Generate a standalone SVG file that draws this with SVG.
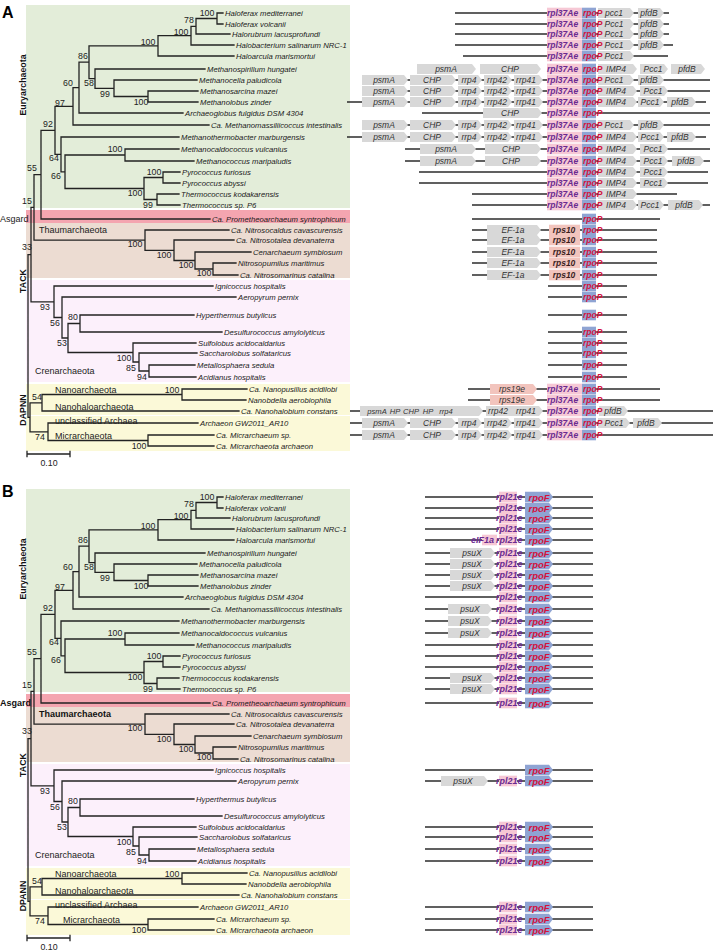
<svg xmlns="http://www.w3.org/2000/svg" width="717" height="952" viewBox="0 0 717 952">
<style>
text{font-family:"Liberation Sans",Arial,Helvetica,sans-serif}
.tx{font-size:7.7px;font-style:italic;fill:#1a1a1a}
.bs{font-size:8.8px;fill:#222;text-anchor:middle}
.gl{font-size:9px;fill:#222}
.glb{font-size:9px;fill:#111;font-weight:bold}
.rot{font-size:8.8px;font-weight:bold;fill:#111;text-anchor:middle}
.pl{font-size:16px;font-weight:bold;fill:#000}
.tree{fill:none;stroke:#222;stroke-width:1.3;stroke-linecap:square}
.ln{stroke:#2b2b2b;stroke-width:1.5;fill:none}
.g{fill:#d8d8d8}
.gt{font-size:8.5px;font-style:italic;fill:#333;text-anchor:middle}
.gs{font-size:7.6px;font-style:italic;fill:#333;text-anchor:middle}
.pk{fill:#f6c8d5}
.bl{fill:#8fa4d3}
.rs{fill:#f2c4bd}
.rpl{font-size:8.5px;font-weight:bold;font-style:italic;fill:#6a2a90}
.rpo{font-size:8.5px;font-weight:bold;font-style:italic;fill:#d3123c}
.rps{font-size:8.5px;font-weight:bold;font-style:italic;fill:#3a1f1f;text-anchor:middle}
.rplB{font-size:9px;font-weight:bold;font-style:italic;fill:#6a2a90}
.rpoB{font-size:9.5px;font-weight:bold;font-style:italic;fill:#d3123c;text-anchor:middle}
.eu{fill:#e3edd9}.as{fill:#f4a5b0}.th{fill:#ecdcd2}.cr{fill:#fcf0fb}.dp{fill:#fbf9d8}
</style>
<defs>
<g id="L5" class="g"><path d="M362-5h42l4 5-4 5h-42z"/><path d="M410-5h42l4 5-4 5h-42z"/><path d="M458-5h20l4 5-4 5h-20z"/><path d="M484-5h24l4 5-4 5h-24z"/><path d="M514-5h25l4 5-4 5h-25z"/></g>
<path id="IM" class="g" d="M598-5h35l4 5-4 5h-35z"/>
<path id="P2" class="g" d="M640-5h24l4 5-4 5h-24z"/>
<path id="F3" class="g" d="M672-5h28l4 5-4 5h-28z"/>
<path id="P1" class="g" d="M598-5h32l4 5-4 5h-32z"/>
<path id="F1" class="g" d="M638-5h22l4 5-4 5h-22z"/>
<rect id="pk" class="pk" x="547" y="-5.3" width="35" height="10.6"/>
<rect id="bl" class="bl" x="582" y="-5.3" width="14" height="10.6"/>
<path id="EF" class="g" d="M487-5h50l4 5-4 5h-50z"/>
<rect id="RS" class="rs" x="549" y="-5.3" width="31" height="10.6"/>
<path id="R19" class="rs" d="M490-5h43l4 5-4 5h-43z"/>
<rect id="pkB" class="pk" x="499" y="-5.3" width="18" height="10.6"/>
<path id="blB" class="bl" d="M525-5.3h24l4 5.3-4 5.3h-24z"/>
<path id="ps1" class="g" d="M450-5h41l4 5-4 5h-41z"/>
<path id="ps2" class="g" d="M448-5h40l4 5-4 5h-40z"/>
<path id="treeP" class="tree" d="M217 13V24M217 13H223M217 24H223M196 18.5V34M196 18.5H217M196 34H230M191 26.3V45M191 26.3H196M191 45H234M158 35.6V56M158 35.6H191M158 56H234M148 91V102M148 91H198M148 102H198M114 80V96.5M114 80H197M114 96.5H148M95 69V88.3M95 69H205M95 88.3H114M89 45.8V78.6M89 45.8H158M89 78.6H95M79 62.2V113M79 62.2H89M79 113H183M73 87.6V125M73 87.6H79M73 125H209M125 149V161M125 149H179M125 161H194M163 172V183M163 172H180M163 183H180M157 194V205M157 194H179M157 205H180M144 177.5V199.5M144 177.5H163M144 199.5H157M65 155V188.5M65 155H125M65 188.5H144M61 137V171.8M61 137H179M61 171.8H65M55 106.3V154.4M55 106.3H73M55 154.4H61M41 130.3V219M41 130.3H55M41 219H210M213 263V275M213 263H236M213 275H238M195 252V269M195 252H251M195 269H213M174 240V260.5M174 240H234M174 260.5H195M145 230V250.3M145 230H229M145 250.3H174M34 174.7V240.1M34 174.7H41M34 240.1H145M149 365V377M149 365H195M149 377H196M139 353V371M139 353H197M139 371H149M133 343V362M133 343H196M133 362H139M80 315V332M80 315H194M80 332H222M68 323.5V352.5M68 323.5H80M68 352.5H133M62 297V338M62 297H236M62 338H68M54 286V317.5M54 286H213M54 317.5H62M31 207.4V301.8M31 207.4H34M31 301.8H54M182 389V400M182 389H247M182 400H246M42 394.5V411M42 394.5H182M42 411H239M148 435V446M148 435H214M148 446H214M48 423V440.5M48 423H198M48 440.5H148M30 402.8V431.8M30 402.8H42M30 431.8H48M28 254.6V417.3M28 254.6H31M28 417.3H30"/>
</defs>

<!-- ================= PANEL A ================= -->
<g id="panelA">
<text class="pl" x="2" y="17.5">A</text>
<g id="A-bg">
<rect class="eu" x="26" y="5" width="324" height="203"/>
<rect class="as" x="26" y="210" width="324" height="13"/>
<rect class="th" x="26" y="223" width="324" height="55"/>
<rect class="cr" x="26" y="280" width="324" height="102"/>
<rect class="dp" x="26" y="384" width="324" height="31"/>
<rect class="dp" x="26" y="416" width="324" height="35"/>
</g>
<g id="A-connectors"><use href="#treeP"/>
<path class="tree" d="M27 454H70M27 451.5V456.5M70 451.5V456.5"/></g>
<g id="A-scale"><text class="bs" x="49" y="466">0.10</text></g>
<g id="A-groups">
<text class="rot" transform="translate(25.5,85) rotate(-90)">Euryarchaeota</text>
<text class="rot" transform="translate(25.5,281) rotate(-90)">TACK</text>
<text class="rot" transform="translate(25.5,410) rotate(-90)">DAPNN</text>
<text class="gl" x="0" y="222">Asgard</text>
<text class="gl" x="39" y="233">Thaumarchaeota</text>
<text class="gl" x="35" y="374">Crenarchaeota</text>
<text class="gl" x="55" y="392.5">Nanoarchaeota</text>
<text class="gl" x="55" y="409.5">Nanohaloarchaeota</text>
<text class="gl" x="55" y="424">unclassified Archaea</text>
<text class="gl" x="55" y="439">Micrarchaeota</text>
</g>
<g id="A-support">
<text class="bs" x="207" y="15.5">100</text><text class="bs" x="189" y="23">78</text><text class="bs" x="181" y="35">100</text><text class="bs" x="148" y="45">100</text>
<text class="bs" x="83" y="59">86</text><text class="bs" x="68" y="86">60</text><text class="bs" x="89" y="86">58</text><text class="bs" x="105" y="97">99</text>
<text class="bs" x="141" y="105">100</text><text class="bs" x="60" y="106">97</text><text class="bs" x="48" y="127">92</text><text class="bs" x="115" y="152">100</text>
<text class="bs" x="54" y="161">64</text><text class="bs" x="32" y="171">55</text><text class="bs" x="154" y="175">100</text><text class="bs" x="56" y="179">66</text>
<text class="bs" x="135" y="196">100</text><text class="bs" x="27" y="204">15</text><text class="bs" x="148" y="208">99</text><text class="bs" x="135" y="247">100</text>
<text class="bs" x="27" y="250">33</text><text class="bs" x="164" y="258">100</text><text class="bs" x="186" y="268">100</text><text class="bs" x="204" y="276">100</text>
<text class="bs" x="45" y="310">93</text><text class="bs" x="73" y="320">80</text><text class="bs" x="55" y="326">56</text><text class="bs" x="62" y="346">53</text>
<text class="bs" x="124" y="361">100</text><text class="bs" x="131" y="371">85</text><text class="bs" x="142" y="380">94</text><text class="bs" x="172" y="393">100</text>
<text class="bs" x="37" y="400">54</text><text class="bs" x="40" y="440">74</text><text class="bs" x="139" y="449">100</text>
</g>
<g id="A-taxa">
<g id="A-n1"><text class="tx" x="225" y="15.8">Haloferax mediterranei</text></g>
<g id="A-n2"><text class="tx" x="225" y="26.8">Haloferax volcanii</text></g>
<g id="A-n3"><text class="tx" x="232" y="36.8">Halorubrum lacusprofundi</text></g>
<g id="A-n4"><text class="tx" x="236" y="47.8">Halobacterium salinarum NRC-1</text></g>
<g id="A-n5"><text class="tx" x="236" y="58.8">Haloarcula marismortui</text></g>
<g id="A-n6"><text class="tx" x="207" y="71.8">Methanospirillum hungatei</text></g>
<g id="A-n7"><text class="tx" x="199" y="82.8">Methanocella paludicola</text></g>
<g id="A-n8"><text class="tx" x="200" y="93.8">Methanosarcina mazei</text></g>
<g id="A-n9"><text class="tx" x="200" y="104.8">Methanolobus zinder</text></g>
<g id="A-n10"><text class="tx" x="185" y="115.8">Archaeoglobus fulgidus DSM 4304</text></g>
<g id="A-n11"><text class="tx" x="211" y="127.8">Ca. Methanomassiliicoccus intestinalis</text></g>
<g id="A-n12"><text class="tx" x="181" y="139.8">Methanothermobacter marburgensis</text></g>
<g id="A-n13"><text class="tx" x="181" y="151.8">Methanocaldococcus vulcanius</text></g>
<g id="A-n14"><text class="tx" x="196" y="163.8">Methanococcus maripaludis</text></g>
<g id="A-n15"><text class="tx" x="182" y="174.8">Pyrococcus furiosus</text></g>
<g id="A-n16"><text class="tx" x="182" y="185.8">Pyrococcus abyssi</text></g>
<g id="A-n17"><text class="tx" x="181" y="196.8">Thermococcus kodakarensis</text></g>
<g id="A-n18"><text class="tx" x="182" y="207.8">Thermococcus sp. P6</text></g>
<g id="A-n19"><text class="tx" x="212" y="221.8">Ca. Prometheoarchaeum syntrophicum</text></g>
<g id="A-n20"><text class="tx" x="231" y="232.8">Ca. Nitrosocaldus cavascurensis</text></g>
<g id="A-n21"><text class="tx" x="236" y="242.8">Ca. Nitrosotalea devanaterra</text></g>
<g id="A-n22"><text class="tx" x="253" y="254.8">Cenarchaeum symbiosum</text></g>
<g id="A-n23"><text class="tx" x="238" y="265.8">Nitrosopumilus maritimus</text></g>
<g id="A-n24"><text class="tx" x="240" y="277.8">Ca. Nitrosomarinus catalina</text></g>
<g id="A-n25"><text class="tx" x="215" y="288.8">Ignicoccus hospitalis</text></g>
<g id="A-n26"><text class="tx" x="238" y="299.8">Aeropyrum pernix</text></g>
<g id="A-n27"><text class="tx" x="196" y="317.8">Hyperthermus butylicus</text></g>
<g id="A-n28"><text class="tx" x="224" y="334.8">Desulfurococcus amylolyticus</text></g>
<g id="A-n29"><text class="tx" x="198" y="345.8">Sulfolobus acidocaldarius</text></g>
<g id="A-n30"><text class="tx" x="199" y="355.8">Saccharolobus solfataricus</text></g>
<g id="A-n31"><text class="tx" x="197" y="367.8">Metallosphaera sedula</text></g>
<g id="A-n32"><text class="tx" x="198" y="379.8">Acidianus hospitalis</text></g>
<g id="A-n33"><text class="tx" x="249" y="391.8">Ca. Nanopusillus acidilobi</text></g>
<g id="A-n34"><text class="tx" x="248" y="402.8">Nanobdella aerobiophila</text></g>
<g id="A-n35"><text class="tx" x="241" y="413.8">Ca. Nanohalobium constans</text></g>
<g id="A-n36"><text class="tx" x="200" y="425.8">Archaeon GW2011_AR10</text></g>
<g id="A-n37"><text class="tx" x="216" y="437.8">Ca. Micrarchaeum sp.</text></g>
<g id="A-n38"><text class="tx" x="216" y="448.8">Ca. Micrarchaeota archaeon</text></g>
</g>

<g id="A-genes">
<g id="A-r1"><path class="ln" d="M455 13H669"/><use href="#pk" y="13"/><use href="#bl" y="13"/><use href="#P1" y="13"/><use href="#F1" y="13"/><text class="rpl" x="547" y="16">rpl37Ae</text><text class="rpo" x="583" y="16">rpoP</text><text class="gt" x="614" y="16">pcc1</text><text class="gt" x="649" y="16">pfdB</text></g>
<g id="A-r2"><path class="ln" d="M455 24H669"/><use href="#pk" y="24"/><use href="#bl" y="24"/><use href="#P1" y="24"/><use href="#F1" y="24"/><text class="rpl" x="547" y="27">rpl37Ae</text><text class="rpo" x="583" y="27">rpoP</text><text class="gt" x="614" y="27">Pcc1</text><text class="gt" x="649" y="27">pfdB</text></g>
<g id="A-r3"><path class="ln" d="M455 34H669"/><use href="#pk" y="34"/><use href="#bl" y="34"/><use href="#P1" y="34"/><use href="#F1" y="34"/><text class="rpl" x="547" y="37">rpl37Ae</text><text class="rpo" x="583" y="37">rpoP</text><text class="gt" x="614" y="37">Pcc1</text><text class="gt" x="649" y="37">pfdB</text></g>
<g id="A-r4"><path class="ln" d="M455 45H673"/><use href="#pk" y="45"/><use href="#bl" y="45"/><use href="#P1" y="45"/><use href="#F1" y="45"/><text class="rpl" x="547" y="48">rpl37Ae</text><text class="rpo" x="583" y="48">rpoP</text><text class="gt" x="614" y="48">Pcc1</text><text class="gt" x="649" y="48">pfdB</text></g>
<g id="A-r5"><path class="ln" d="M463 56H668"/><use href="#pk" y="56"/><use href="#bl" y="56"/><use href="#P1" y="56"/><text class="rpl" x="547" y="59">rpl37Ae</text><text class="rpo" x="583" y="59">rpoP</text><text class="gt" x="614" y="59">Pcc1</text></g>
<g id="A-r6"><path class="g" d="M417 64h55l4 5-4 5h-55z"/><path class="g" d="M480 64h57l4 5-4 5h-57z"/><use href="#pk" y="69"/><use href="#bl" y="69"/><use href="#IM" y="69"/><use href="#P2" y="69"/><path class="g" d="M671 64h30l4 5-4 5h-30z"/><text class="gt" x="446" y="72">psmA</text><text class="gt" x="510" y="72">CHP</text><text class="rpl" x="547" y="72">rpl37Ae</text><text class="rpo" x="583" y="72">rpoP</text><text class="gt" x="616" y="72">IMP4</text><text class="gt" x="653" y="72">Pcc1</text><text class="gt" x="687" y="72">pfdB</text></g>
<g id="A-r7"><path class="ln" d="M362 80H710"/><use href="#L5" y="80"/><use href="#pk" y="80"/><use href="#bl" y="80"/><use href="#P1" y="80"/><use href="#F1" y="80"/><text class="gt" x="384" y="83">psmA</text><text class="gt" x="432" y="83">CHP</text><text class="gt" x="469" y="83">rrp4</text><text class="gt" x="497" y="83">rrp42</text><text class="gt" x="526" y="83">rrp41</text><text class="rpl" x="547" y="83">rpl37Ae</text><text class="rpo" x="583" y="83">rpoP</text><text class="gt" x="614" y="83">Pcc1</text><text class="gt" x="649" y="83">pfdB</text></g>
<g id="A-r8"><path class="ln" d="M362 91H710"/><use href="#L5" y="91"/><use href="#pk" y="91"/><use href="#bl" y="91"/><use href="#IM" y="91"/><use href="#P2" y="91"/><text class="gt" x="384" y="94">psmA</text><text class="gt" x="432" y="94">CHP</text><text class="gt" x="469" y="94">rrp4</text><text class="gt" x="497" y="94">rrp42</text><text class="gt" x="526" y="94">rrp41</text><text class="rpl" x="547" y="94">rpl37Ae</text><text class="rpo" x="583" y="94">rpoP</text><text class="gt" x="616" y="94">IMP4</text><text class="gt" x="653" y="94">Pcc1</text></g>
<g id="A-r9"><path class="ln" d="M347 102H706"/><use href="#L5" y="102"/><use href="#pk" y="102"/><use href="#bl" y="102"/><use href="#IM" y="102"/><path class="g" d="M638 97h22l4 5-4 5h-22z"/><path class="g" d="M667 97h25l4 5-4 5h-25z"/><text class="gt" x="384" y="105">psmA</text><text class="gt" x="432" y="105">CHP</text><text class="gt" x="469" y="105">rrp4</text><text class="gt" x="497" y="105">rrp42</text><text class="gt" x="526" y="105">rrp41</text><text class="rpl" x="547" y="105">rpl37Ae</text><text class="rpo" x="583" y="105">rpoP</text><text class="gt" x="616" y="105">IMP4</text><text class="gt" x="650" y="105">Pcc1</text><text class="gt" x="680" y="105">pfdB</text></g>
<g id="A-r10"><path class="ln" d="M422 113H710"/><path class="g" d="M483 108h55l4 5-4 5h-55z"/><use href="#pk" y="113"/><use href="#bl" y="113"/><text class="gt" x="510" y="116">CHP</text><text class="rpl" x="547" y="116">rpl37Ae</text><text class="rpo" x="583" y="116">rpoP</text></g>
<g id="A-r11"><path class="ln" d="M362 125H710"/><use href="#L5" y="125"/><use href="#pk" y="125"/><use href="#bl" y="125"/><use href="#P1" y="125"/><use href="#F1" y="125"/><text class="gt" x="384" y="128">psmA</text><text class="gt" x="432" y="128">CHP</text><text class="gt" x="469" y="128">rrp4</text><text class="gt" x="497" y="128">rrp42</text><text class="gt" x="526" y="128">rrp41</text><text class="rpl" x="547" y="128">rpl37Ae</text><text class="rpo" x="583" y="128">rpoP</text><text class="gt" x="614" y="128">Pcc1</text><text class="gt" x="649" y="128">pfdB</text></g>
<g id="A-r12"><path class="ln" d="M347 137H706"/><use href="#L5" y="137"/><use href="#pk" y="137"/><use href="#bl" y="137"/><use href="#IM" y="137"/><path class="g" d="M638 132h22l4 5-4 5h-22z"/><path class="g" d="M667 132h25l4 5-4 5h-25z"/><text class="gt" x="384" y="140">psmA</text><text class="gt" x="432" y="140">CHP</text><text class="gt" x="469" y="140">rrp4</text><text class="gt" x="497" y="140">rrp42</text><text class="gt" x="526" y="140">rrp41</text><text class="rpl" x="547" y="140">rpl37Ae</text><text class="rpo" x="583" y="140">rpoP</text><text class="gt" x="616" y="140">IMP4</text><text class="gt" x="650" y="140">Pcc1</text><text class="gt" x="680" y="140">pfdB</text></g>
<g id="A-r13"><path class="ln" d="M405 149H710"/><path class="g" d="M420 144h52l4 5-4 5h-52z"/><path class="g" d="M485 144h52l4 5-4 5h-52z"/><use href="#pk" y="149"/><use href="#bl" y="149"/><use href="#IM" y="149"/><use href="#P2" y="149"/><text class="gt" x="446" y="152">psmA</text><text class="gt" x="511" y="152">CHP</text><text class="rpl" x="547" y="152">rpl37Ae</text><text class="rpo" x="583" y="152">rpoP</text><text class="gt" x="616" y="152">IMP4</text><text class="gt" x="653" y="152">Pcc1</text></g>
<g id="A-r14"><path class="ln" d="M405 161H710"/><path class="g" d="M420 156h52l4 5-4 5h-52z"/><path class="g" d="M485 156h52l4 5-4 5h-52z"/><use href="#pk" y="161"/><use href="#bl" y="161"/><use href="#IM" y="161"/><use href="#P2" y="161"/><use href="#F3" y="161"/><text class="gt" x="446" y="164">psmA</text><text class="gt" x="511" y="164">CHP</text><text class="rpl" x="547" y="164">rpl37Ae</text><text class="rpo" x="583" y="164">rpoP</text><text class="gt" x="616" y="164">IMP4</text><text class="gt" x="653" y="164">Pcc1</text><text class="gt" x="686" y="164">pfdB</text></g>
<g id="A-r15"><path class="ln" d="M419 172H708"/><use href="#pk" y="172"/><use href="#bl" y="172"/><use href="#IM" y="172"/><use href="#P2" y="172"/><text class="rpl" x="547" y="175">rpl37Ae</text><text class="rpo" x="583" y="175">rpoP</text><text class="gt" x="616" y="175">IMP4</text><text class="gt" x="653" y="175">Pcc1</text></g>
<g id="A-r16"><path class="ln" d="M419 183H708"/><use href="#pk" y="183"/><use href="#bl" y="183"/><use href="#IM" y="183"/><use href="#P2" y="183"/><text class="rpl" x="547" y="186">rpl37Ae</text><text class="rpo" x="583" y="186">rpoP</text><text class="gt" x="616" y="186">IMP4</text><text class="gt" x="653" y="186">Pcc1</text></g>
<g id="A-r17"><path class="ln" d="M472 194H677"/><use href="#pk" y="194"/><use href="#bl" y="194"/><use href="#IM" y="194"/><text class="rpl" x="547" y="197">rpl37Ae</text><text class="rpo" x="583" y="197">rpoP</text><text class="gt" x="616" y="197">IMP4</text></g>
<g id="A-r18"><path class="ln" d="M472 205H710"/><use href="#pk" y="205"/><use href="#bl" y="205"/><use href="#IM" y="205"/><path class="g" d="M638 200h22l4 5-4 5h-22z"/><path class="g" d="M668 200h31l4 5-4 5h-31z"/><text class="rpl" x="547" y="208">rpl37Ae</text><text class="rpo" x="583" y="208">rpoP</text><text class="gt" x="616" y="208">IMP4</text><text class="gt" x="650" y="208">Pcc1</text><text class="gt" x="684" y="208">pfdB</text></g>
<g id="A-r19"><path class="ln" d="M472 219H660"/><use href="#bl" y="219"/><text class="rpo" x="583" y="222">rpoP</text></g>
<g id="A-r20"><path class="ln" d="M472 230H657"/><use href="#EF" y="230"/><use href="#RS" y="230"/><use href="#bl" y="230"/><text class="gt" x="513" y="233">EF-1a</text><text class="rps" x="564" y="233">rps10</text><text class="rpo" x="583" y="233">rpoP</text></g>
<g id="A-r21"><path class="ln" d="M472 240H657"/><use href="#EF" y="240"/><use href="#RS" y="240"/><use href="#bl" y="240"/><text class="gt" x="513" y="243">EF-1a</text><text class="rps" x="564" y="243">rps10</text><text class="rpo" x="583" y="243">rpoP</text></g>
<g id="A-r22"><path class="ln" d="M472 252H657"/><use href="#EF" y="252"/><use href="#RS" y="252"/><use href="#bl" y="252"/><text class="gt" x="513" y="255">EF-1a</text><text class="rps" x="564" y="255">rps10</text><text class="rpo" x="583" y="255">rpoP</text></g>
<g id="A-r23"><path class="ln" d="M472 263H657"/><use href="#EF" y="263"/><use href="#RS" y="263"/><use href="#bl" y="263"/><text class="gt" x="513" y="266">EF-1a</text><text class="rps" x="564" y="266">rps10</text><text class="rpo" x="583" y="266">rpoP</text></g>
<g id="A-r24"><path class="ln" d="M472 275H657"/><use href="#EF" y="275"/><use href="#RS" y="275"/><use href="#bl" y="275"/><text class="gt" x="513" y="278">EF-1a</text><text class="rps" x="564" y="278">rps10</text><text class="rpo" x="583" y="278">rpoP</text></g>
<g id="A-r25"><path class="ln" d="M548 286H627"/><use href="#bl" y="286"/><text class="rpo" x="583" y="289">rpoP</text></g>
<g id="A-r26"><path class="ln" d="M548 297H627"/><use href="#bl" y="297"/><text class="rpo" x="583" y="300">rpoP</text></g>
<g id="A-r27"><path class="ln" d="M548 315H627"/><use href="#bl" y="315"/><text class="rpo" x="583" y="318">rpoP</text></g>
<g id="A-r28"><path class="ln" d="M548 332H627"/><use href="#bl" y="332"/><text class="rpo" x="583" y="335">rpoP</text></g>
<g id="A-r29"><path class="ln" d="M548 343H627"/><use href="#bl" y="343"/><text class="rpo" x="583" y="346">rpoP</text></g>
<g id="A-r30"><path class="ln" d="M548 353H627"/><use href="#bl" y="353"/><text class="rpo" x="583" y="356">rpoP</text></g>
<g id="A-r31"><path class="ln" d="M548 365H627"/><use href="#bl" y="365"/><text class="rpo" x="583" y="368">rpoP</text></g>
<g id="A-r32"><path class="ln" d="M548 377H627"/><use href="#bl" y="377"/><text class="rpo" x="583" y="380">rpoP</text></g>
<g id="A-r33"><path class="ln" d="M468 389H660"/><use href="#R19" y="389"/><use href="#pk" y="389"/><use href="#bl" y="389"/><text class="gt" x="512" y="392">rps19e</text><text class="rpl" x="547" y="392">rpl37Ae</text><text class="rpo" x="583" y="392">rpoP</text></g>
<g id="A-r34"><path class="ln" d="M468 400H660"/><use href="#R19" y="400"/><use href="#pk" y="400"/><use href="#bl" y="400"/><text class="gt" x="512" y="403">rps19e</text><text class="rpl" x="547" y="403">rpl37Ae</text><text class="rpo" x="583" y="403">rpoP</text></g>
<g id="A-r35"><path class="ln" d="M350 411H713"/><path class="g" d="M360 406h119l4 5-4 5h-119z"/><path class="g" d="M486 406h53l4 5-4 5h-53z"/><use href="#pk" y="411"/><use href="#bl" y="411"/><path class="g" d="M599 406h25l4 5-4 5h-25z"/><text class="gs" x="377" y="414">psmA</text><text class="gs" x="395" y="414">HP</text><text class="gs" x="411" y="414">CHP</text><text class="gs" x="428" y="414">HP</text><text class="gs" x="446" y="414">rrp4</text><text class="gt" x="498" y="414">rrp42</text><text class="gt" x="526" y="414">rrp41</text><text class="rpl" x="547" y="414">rpl37Ae</text><text class="rpo" x="583" y="414">rpoP</text><text class="gt" x="613" y="414">pfdB</text></g>
<g id="A-r36"><path class="ln" d="M350 423H713"/><use href="#L5" y="423"/><use href="#pk" y="423"/><use href="#bl" y="423"/><path class="g" d="M598 418h28l4 5-4 5h-28z"/><path class="g" d="M633 418h25l4 5-4 5h-25z"/><text class="gt" x="384" y="426">psmA</text><text class="gt" x="432" y="426">CHP</text><text class="gt" x="469" y="426">rrp4</text><text class="gt" x="497" y="426">rrp42</text><text class="gt" x="526" y="426">rrp41</text><text class="rpl" x="547" y="426">rpl37Ae</text><text class="rpo" x="583" y="426">rpoP</text><text class="gt" x="614" y="426">Pcc1</text><text class="gt" x="646" y="426">pfdB</text></g>
<g id="A-r37"><path class="ln" d="M350 435H713"/><use href="#L5" y="435"/><use href="#pk" y="435"/><use href="#bl" y="435"/><text class="gt" x="384" y="438">psmA</text><text class="gt" x="432" y="438">CHP</text><text class="gt" x="469" y="438">rrp4</text><text class="gt" x="497" y="438">rrp42</text><text class="gt" x="526" y="438">rrp41</text><text class="rpl" x="547" y="438">rpl37Ae</text><text class="rpo" x="583" y="438">rpoP</text></g>
</g>
</g>

<!-- ================= PANEL B ================= -->
<g id="panelB">
<text class="pl" x="2" y="497">B</text>
<g transform="translate(0,484)">
<g id="B-bg">
<rect class="eu" x="26" y="5" width="324" height="203"/>
<rect class="as" x="26" y="210" width="324" height="13"/>
<rect class="th" x="26" y="223" width="324" height="55"/>
<rect class="cr" x="26" y="280" width="324" height="102"/>
<rect class="dp" x="26" y="384" width="324" height="31"/>
<rect class="dp" x="26" y="416" width="324" height="35"/>
</g>
<g id="B-connectors"><use href="#treeP"/>
<path class="tree" d="M27 454H70M27 451.5V456.5M70 451.5V456.5"/></g>
<g id="B-scale"><text class="bs" x="49" y="466">0.10</text></g>
<g id="B-groups">
<text class="rot" transform="translate(25.5,85) rotate(-90)">Euryarchaeota</text>
<text class="rot" transform="translate(25.5,281) rotate(-90)">TACK</text>
<text class="rot" transform="translate(25.5,412) rotate(-90)">DPANN</text>
<text class="glb" x="0" y="222">Asgard</text>
<text class="glb" x="39" y="233">Thaumarchaeota</text>
<text class="gl" x="35" y="374">Crenarchaeota</text>
<text class="gl" x="55" y="392.5">Nanoarchaeota</text>
<text class="gl" x="55" y="409.5">Nanohaloarchaeota</text>
<text class="gl" x="55" y="424">unclassified Archaea</text>
<text class="gl" x="63" y="439">Micrarchaeota</text>
</g>
<g id="B-support">
<text class="bs" x="207" y="15.5">100</text><text class="bs" x="189" y="23">78</text><text class="bs" x="181" y="35">100</text><text class="bs" x="148" y="45">100</text>
<text class="bs" x="83" y="59">86</text><text class="bs" x="68" y="86">60</text><text class="bs" x="89" y="86">58</text><text class="bs" x="105" y="97">99</text>
<text class="bs" x="141" y="105">100</text><text class="bs" x="60" y="106">97</text><text class="bs" x="48" y="127">92</text><text class="bs" x="115" y="152">100</text>
<text class="bs" x="54" y="161">64</text><text class="bs" x="32" y="171">55</text><text class="bs" x="154" y="175">100</text><text class="bs" x="56" y="179">66</text>
<text class="bs" x="135" y="196">100</text><text class="bs" x="27" y="204">15</text><text class="bs" x="148" y="208">99</text><text class="bs" x="135" y="247">100</text>
<text class="bs" x="27" y="250">33</text><text class="bs" x="164" y="258">100</text><text class="bs" x="186" y="268">100</text><text class="bs" x="204" y="276">100</text>
<text class="bs" x="45" y="310">93</text><text class="bs" x="73" y="320">80</text><text class="bs" x="55" y="326">56</text><text class="bs" x="62" y="346">53</text>
<text class="bs" x="124" y="361">100</text><text class="bs" x="131" y="371">85</text><text class="bs" x="142" y="380">94</text><text class="bs" x="172" y="393">100</text>
<text class="bs" x="37" y="400">54</text><text class="bs" x="40" y="440">74</text><text class="bs" x="139" y="449">100</text>
</g>
<g id="B-taxa">
<g id="B-n1"><text class="tx" x="225" y="15.8">Haloferax mediterranei</text></g>
<g id="B-n2"><text class="tx" x="225" y="26.8">Haloferax volcanii</text></g>
<g id="B-n3"><text class="tx" x="232" y="36.8">Halorubrum lacusprofundi</text></g>
<g id="B-n4"><text class="tx" x="236" y="47.8">Halobacterium salinarum NRC-1</text></g>
<g id="B-n5"><text class="tx" x="236" y="58.8">Haloarcula marismortui</text></g>
<g id="B-n6"><text class="tx" x="207" y="71.8">Methanospirillum hungatei</text></g>
<g id="B-n7"><text class="tx" x="199" y="82.8">Methanocella paludicola</text></g>
<g id="B-n8"><text class="tx" x="200" y="93.8">Methanosarcina mazei</text></g>
<g id="B-n9"><text class="tx" x="200" y="104.8">Methanolobus zinder</text></g>
<g id="B-n10"><text class="tx" x="185" y="115.8">Archaeoglobus fulgidus DSM 4304</text></g>
<g id="B-n11"><text class="tx" x="211" y="127.8">Ca. Methanomassiliicoccus intestinalis</text></g>
<g id="B-n12"><text class="tx" x="181" y="139.8">Methanothermobacter marburgensis</text></g>
<g id="B-n13"><text class="tx" x="181" y="151.8">Methanocaldococcus vulcanius</text></g>
<g id="B-n14"><text class="tx" x="196" y="163.8">Methanococcus maripaludis</text></g>
<g id="B-n15"><text class="tx" x="182" y="174.8">Pyrococcus furiosus</text></g>
<g id="B-n16"><text class="tx" x="182" y="185.8">Pyrococcus abyssi</text></g>
<g id="B-n17"><text class="tx" x="181" y="196.8">Thermococcus kodakarensis</text></g>
<g id="B-n18"><text class="tx" x="182" y="207.8">Thermococcus sp. P6</text></g>
<g id="B-n19"><text class="tx" x="212" y="221.8">Ca. Prometheoarchaeum syntrophicum</text></g>
<g id="B-n20"><text class="tx" x="231" y="232.8">Ca. Nitrosocaldus cavascurensis</text></g>
<g id="B-n21"><text class="tx" x="236" y="242.8">Ca. Nitrosotalea devanaterra</text></g>
<g id="B-n22"><text class="tx" x="253" y="254.8">Cenarchaeum symbiosum</text></g>
<g id="B-n23"><text class="tx" x="238" y="265.8">Nitrosopumilus maritimus</text></g>
<g id="B-n24"><text class="tx" x="240" y="277.8">Ca. Nitrosomarinus catalina</text></g>
<g id="B-n25"><text class="tx" x="215" y="288.8">Ignicoccus hospitalis</text></g>
<g id="B-n26"><text class="tx" x="238" y="299.8">Aeropyrum pernix</text></g>
<g id="B-n27"><text class="tx" x="196" y="317.8">Hyperthermus butylicus</text></g>
<g id="B-n28"><text class="tx" x="224" y="334.8">Desulfurococcus amylolyticus</text></g>
<g id="B-n29"><text class="tx" x="198" y="345.8">Sulfolobus acidocaldarius</text></g>
<g id="B-n30"><text class="tx" x="199" y="355.8">Saccharolobus solfataricus</text></g>
<g id="B-n31"><text class="tx" x="197" y="367.8">Metallosphaera sedula</text></g>
<g id="B-n32"><text class="tx" x="198" y="379.8">Acidianus hospitalis</text></g>
<g id="B-n33"><text class="tx" x="249" y="391.8">Ca. Nanopusillus acidilobi</text></g>
<g id="B-n34"><text class="tx" x="248" y="402.8">Nanobdella aerobiophila</text></g>
<g id="B-n35"><text class="tx" x="241" y="413.8">Ca. Nanohalobium constans</text></g>
<g id="B-n36"><text class="tx" x="200" y="425.8">Archaeon GW2011_AR10</text></g>
<g id="B-n37"><text class="tx" x="216" y="437.8">Ca. Micrarchaeum sp.</text></g>
<g id="B-n38"><text class="tx" x="216" y="448.8">Ca. Micrarchaeota archaeon</text></g>
</g>
</g>

<g id="B-genes">
<g id="B-r1"><path class="ln" d="M425 497H593"/><use href="#pkB" y="497"/><use href="#blB" y="497"/><text class="rplB" x="496" y="500.3">rpl21e</text><text class="rpoB" x="539" y="500.5">rpoF</text></g>
<g id="B-r2"><path class="ln" d="M425 508H593"/><use href="#pkB" y="508"/><use href="#blB" y="508"/><text class="rplB" x="496" y="511.3">rpl21e</text><text class="rpoB" x="539" y="511.5">rpoF</text></g>
<g id="B-r3"><path class="ln" d="M425 518H593"/><use href="#pkB" y="518"/><use href="#blB" y="518"/><text class="rplB" x="496" y="521.3">rpl21e</text><text class="rpoB" x="539" y="521.5">rpoF</text></g>
<g id="B-r4"><path class="ln" d="M425 529H593"/><use href="#pkB" y="529"/><use href="#blB" y="529"/><text class="rplB" x="496" y="532.3">rpl21e</text><text class="rpoB" x="539" y="532.5">rpoF</text></g>
<g id="B-r5"><path class="ln" d="M425 540H593"/><rect class="pk" x="482" y="534.7" width="15" height="10.6"/><use href="#pkB" y="540"/><use href="#blB" y="540"/><text class="rplB" x="471" y="543.3">eIF1a</text><text class="rplB" x="496" y="543.3">rpl21e</text><text class="rpoB" x="539" y="543.5">rpoF</text></g>
<g id="B-r6"><path class="ln" d="M425 553H593"/><use href="#ps1" y="553"/><use href="#pkB" y="553"/><use href="#blB" y="553"/><text class="gt" x="472" y="556">psuX</text><text class="rplB" x="496" y="556.3">rpl21e</text><text class="rpoB" x="539" y="556.5">rpoF</text></g>
<g id="B-r7"><path class="ln" d="M425 564H593"/><use href="#ps1" y="564"/><use href="#pkB" y="564"/><use href="#blB" y="564"/><text class="gt" x="472" y="567">psuX</text><text class="rplB" x="496" y="567.3">rpl21e</text><text class="rpoB" x="539" y="567.5">rpoF</text></g>
<g id="B-r8"><path class="ln" d="M425 575H593"/><use href="#ps1" y="575"/><use href="#pkB" y="575"/><use href="#blB" y="575"/><text class="gt" x="472" y="578">psuX</text><text class="rplB" x="496" y="578.3">rpl21e</text><text class="rpoB" x="539" y="578.5">rpoF</text></g>
<g id="B-r9"><path class="ln" d="M425 586H593"/><use href="#ps1" y="586"/><use href="#pkB" y="586"/><use href="#blB" y="586"/><text class="gt" x="472" y="589">psuX</text><text class="rplB" x="496" y="589.3">rpl21e</text><text class="rpoB" x="539" y="589.5">rpoF</text></g>
<g id="B-r10"><path class="ln" d="M425 597H593"/><use href="#pkB" y="597"/><use href="#blB" y="597"/><text class="rplB" x="496" y="600.3">rpl21e</text><text class="rpoB" x="539" y="600.5">rpoF</text></g>
<g id="B-r11"><path class="ln" d="M425 609H593"/><use href="#ps2" y="609"/><use href="#pkB" y="609"/><use href="#blB" y="609"/><text class="gt" x="470" y="612">psuX</text><text class="rplB" x="496" y="612.3">rpl21e</text><text class="rpoB" x="539" y="612.5">rpoF</text></g>
<g id="B-r12"><path class="ln" d="M425 621H593"/><use href="#ps2" y="621"/><use href="#pkB" y="621"/><use href="#blB" y="621"/><text class="gt" x="470" y="624">psuX</text><text class="rplB" x="496" y="624.3">rpl21e</text><text class="rpoB" x="539" y="624.5">rpoF</text></g>
<g id="B-r13"><path class="ln" d="M425 633H593"/><use href="#ps2" y="633"/><use href="#pkB" y="633"/><use href="#blB" y="633"/><text class="gt" x="470" y="636">psuX</text><text class="rplB" x="496" y="636.3">rpl21e</text><text class="rpoB" x="539" y="636.5">rpoF</text></g>
<g id="B-r14"><path class="ln" d="M425 645H593"/><use href="#pkB" y="645"/><use href="#blB" y="645"/><text class="rplB" x="496" y="648.3">rpl21e</text><text class="rpoB" x="539" y="648.5">rpoF</text></g>
<g id="B-r15"><path class="ln" d="M425 656H593"/><use href="#pkB" y="656"/><use href="#blB" y="656"/><text class="rplB" x="496" y="659.3">rpl21e</text><text class="rpoB" x="539" y="659.5">rpoF</text></g>
<g id="B-r16"><path class="ln" d="M425 667H593"/><use href="#pkB" y="667"/><use href="#blB" y="667"/><text class="rplB" x="496" y="670.3">rpl21e</text><text class="rpoB" x="539" y="670.5">rpoF</text></g>
<g id="B-r17"><path class="ln" d="M425 678H593"/><use href="#ps1" y="678"/><use href="#pkB" y="678"/><use href="#blB" y="678"/><text class="gt" x="472" y="681">psuX</text><text class="rplB" x="496" y="681.3">rpl21e</text><text class="rpoB" x="539" y="681.5">rpoF</text></g>
<g id="B-r18"><path class="ln" d="M425 689H593"/><use href="#ps1" y="689"/><use href="#pkB" y="689"/><use href="#blB" y="689"/><text class="gt" x="472" y="692">psuX</text><text class="rplB" x="496" y="692.3">rpl21e</text><text class="rpoB" x="539" y="692.5">rpoF</text></g>
<g id="B-r19"><path class="ln" d="M425 703H593"/><use href="#pkB" y="703"/><use href="#blB" y="703"/><text class="rplB" x="496" y="706.3">rpl21e</text><text class="rpoB" x="539" y="706.5">rpoF</text></g>
<g id="B-r25"><path class="ln" d="M425 770H593"/><use href="#blB" y="770"/><text class="rpoB" x="539" y="773.5">rpoF</text></g>
<g id="B-r26"><path class="ln" d="M425 781H593"/><path class="g" d="M441 776h43l4 5-4 5h-43z"/><use href="#pkB" y="781"/><use href="#blB" y="781"/><text class="gt" x="463" y="784">psuX</text><text class="rplB" x="496" y="784.3">rpl21e</text><text class="rpoB" x="539" y="784.5">rpoF</text></g>
<g id="B-r29"><path class="ln" d="M425 827H593"/><use href="#pkB" y="827"/><use href="#blB" y="827"/><text class="rplB" x="496" y="830.3">rpl21e</text><text class="rpoB" x="539" y="830.5">rpoF</text></g>
<g id="B-r30"><path class="ln" d="M425 837H593"/><use href="#pkB" y="837"/><use href="#blB" y="837"/><text class="rplB" x="496" y="840.3">rpl21e</text><text class="rpoB" x="539" y="840.5">rpoF</text></g>
<g id="B-r31"><path class="ln" d="M425 849H593"/><use href="#pkB" y="849"/><use href="#blB" y="849"/><text class="rplB" x="496" y="852.3">rpl21e</text><text class="rpoB" x="539" y="852.5">rpoF</text></g>
<g id="B-r32"><path class="ln" d="M425 861H593"/><use href="#pkB" y="861"/><use href="#blB" y="861"/><text class="rplB" x="496" y="864.3">rpl21e</text><text class="rpoB" x="539" y="864.5">rpoF</text></g>
<g id="B-r36"><path class="ln" d="M425 907H593"/><use href="#pkB" y="907"/><use href="#blB" y="907"/><text class="rplB" x="496" y="910.3">rpl21e</text><text class="rpoB" x="539" y="910.5">rpoF</text></g>
<g id="B-r37"><path class="ln" d="M425 919H593"/><use href="#pkB" y="919"/><use href="#blB" y="919"/><text class="rplB" x="496" y="922.3">rpl21e</text><text class="rpoB" x="539" y="922.5">rpoF</text></g>
<g id="B-r38"><path class="ln" d="M425 930H593"/><use href="#pkB" y="930"/><use href="#blB" y="930"/><text class="rplB" x="496" y="933.3">rpl21e</text><text class="rpoB" x="539" y="933.5">rpoF</text></g>
</g>
</g>
</svg>
